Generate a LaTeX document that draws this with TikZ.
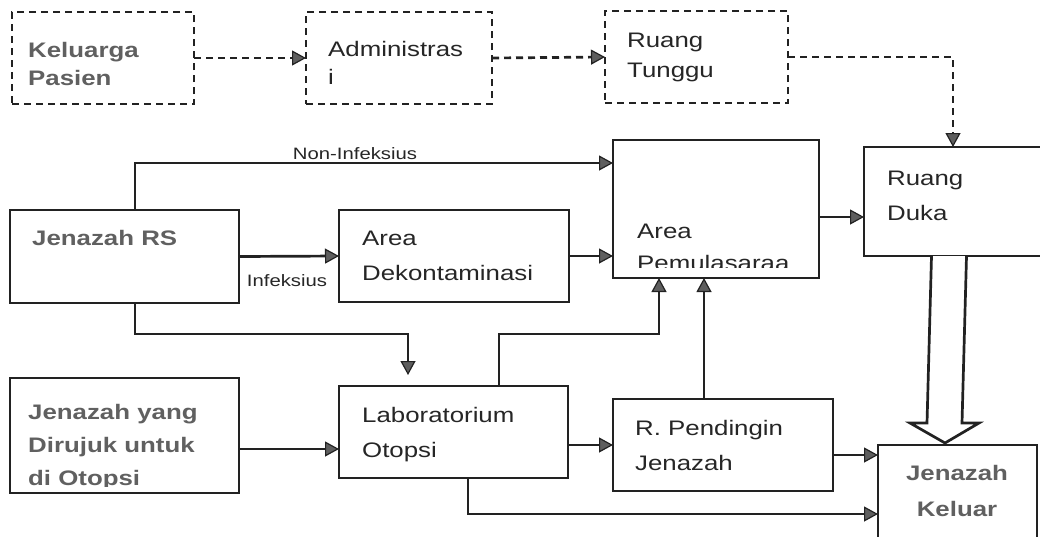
\documentclass[tikz,border=0pt]{standalone}
\usepackage{fontspec}
\setmainfont[FakeStretch=1.23]{Liberation Sans}
\usetikzlibrary{arrows.meta,calc}

\definecolor{ink}{HTML}{222222}
\definecolor{txt}{HTML}{262626}
\definecolor{boldtxt}{HTML}{606060}
\definecolor{headfill}{HTML}{5E5E5E}

\tikzset{
  box/.style={draw=ink, line width=2.7pt, inner sep=0pt, outer sep=0pt, anchor=north west},
  dbox/.style={box, dash pattern=on 7pt off 5pt},
  % multi-line labels are placed by the baseline of their last line
  lbl/.style={anchor=base west, inner sep=0pt, align=left, text=txt,
              font=\fontsize{21}{28}\selectfont},
  blbl/.style={lbl, text=boldtxt, font=\fontsize{21}{28}\selectfont\bfseries},
  clbl/.style={blbl, anchor=base, align=center},
  small/.style={anchor=base, inner sep=0pt, text=txt, font=\fontsize{16.5}{20}\selectfont},
  tip/.style={-{Triangle[length=14pt,width=15pt,line width=1.2pt,fill=headfill]}},
  flow/.style={draw=ink, line width=2.7pt, tip},
  dflow/.style={flow, dash pattern=on 7pt off 5pt},
}

\begin{document}
\begin{tikzpicture}[x=1pt,y=-1pt]
  \clip (0,0) rectangle (1040,536);
  \fill[white] (0,0) rectangle (1040,536);

  % top row: family route (dashed)
  \node[dbox, minimum width=182pt, minimum height=92pt] (kp)  at (12,12)  {};
  \node[dbox, minimum width=186pt, minimum height=92pt] (adm) at (306,12) {};
  \node[dbox, minimum width=183pt, minimum height=92pt] (rt)  at (605,11) {};

  % main rooms
  \node[box, minimum width=229pt, minimum height=93pt]  (jrs) at (10,210)  {};
  \node[box, minimum width=230pt, minimum height=92pt]  (dek) at (339,210) {};
  \node[box, minimum width=206pt, minimum height=138pt] (pem) at (613,140) {};
  \node[box, minimum width=190pt, minimum height=109pt] (rd)  at (864,147) {};
  \node[box, minimum width=229pt, minimum height=115pt] (jyd) at (10,378)  {};
  \node[box, minimum width=229pt, minimum height=92pt]  (lab) at (339,386) {};
  \node[box, minimum width=220pt, minimum height=92pt]  (rpj) at (613,399) {};
  \node[box, minimum width=159pt, minimum height=110pt] (jk)  at (878,445) {};

  % box texts
  \node[blbl] (tkp)  at (28,85)  {Keluarga\\Pasien};
  \node[lbl]  (tadm) at (328,84) {Administras\\i};
  \node[lbl]  (trt)  at (627,77) {Ruang\\[2pt]Tunggu};
  \node[blbl] (tjrs) at (32,245) {Jenazah RS};
  \node[lbl]  (tdek) at (362,280) {Area\\[7pt]Dekontaminasi};
  \begin{scope}
    \clip (613,140) rectangle (819,267);
    \node[lbl] (tpem) at (637,270) {Area\\[4pt]Pemulasaraa};
  \end{scope}
  \node[lbl]  (trd)  at (887,220) {Ruang\\[7pt]Duka};
  \begin{scope}
    \clip (10,378) rectangle (239,486);
    \node[blbl] (tjyd) at (28,485) {Jenazah yang\\[5pt]Dirujuk untuk\\[5pt]di Otopsi};
  \end{scope}
  \node[lbl]  (tlab) at (362,457) {Laboratorium\\[7pt]Otopsi};
  \node[lbl]  (trpj) at (635,470) {R. Pendingin\\[7pt]Jenazah};
  \node[clbl] (tjk)  at (957,516) {Jenazah\\[8pt]Keluar};

  % dashed family route
  \draw[dflow] (kp.east) -- (adm.west);
  \draw[dflow] (adm.east) -- (rt.west);
  \draw[dflow] (rt.east) -| ([xshift=-6pt]rd.north);

  % body routes
  \draw[flow] ([xshift=10.5pt]jrs.north) |- ([yshift=46pt]pem.west);
  \node[small] (lni) at (355,159) {Non-Infeksius};
  \draw[flow] (jrs.east) -- (dek.west);
  \node[small] (linf) at (287,286) {Infeksius};
  \draw[flow] (dek.east) -- (dek.east -| pem.west);
  \draw[flow] ([yshift=-8pt]pem.east) -- ([yshift=-8pt]pem.east -| rd.west);
  \draw[flow] ([xshift=10.5pt]jrs.south) -- ++(0,31)
    -| ([xshift=-45.5pt,yshift=11pt]lab.north);
  \draw[flow] ([yshift=-17pt]lab.west -| jyd.east) -- ([yshift=-17pt]lab.west);
  \draw[flow] ([yshift=-13pt]lab.east) -- ([yshift=-13pt]lab.east -| rpj.west);
  \draw[flow] ([xshift=45.5pt]lab.north) -- ++(0,-52) -| ([xshift=-57pt]pem.south);
  \draw[flow] ([xshift=-19pt]rpj.north) -- ([xshift=-19pt]rpj.north |- pem.south);
  \draw[flow] ([yshift=-10pt]rpj.east) -- ([yshift=-10pt]rpj.east -| jk.west);
  \draw[flow] ([xshift=14.5pt]lab.south) -- ++(0,36) -- (jk.west |- 0,514);

  % hollow block arrow from the mourning room to the exit
  \draw[draw=ink, line width=2.7pt, fill=white, line join=miter]
    ([xshift=-27.5pt]rd.south) -- (927,423) -- (910,423) -- (945,443)
    -- (979,423) -- (962,423) -- ([xshift=7.5pt]rd.south);
\end{tikzpicture}
\end{document}
